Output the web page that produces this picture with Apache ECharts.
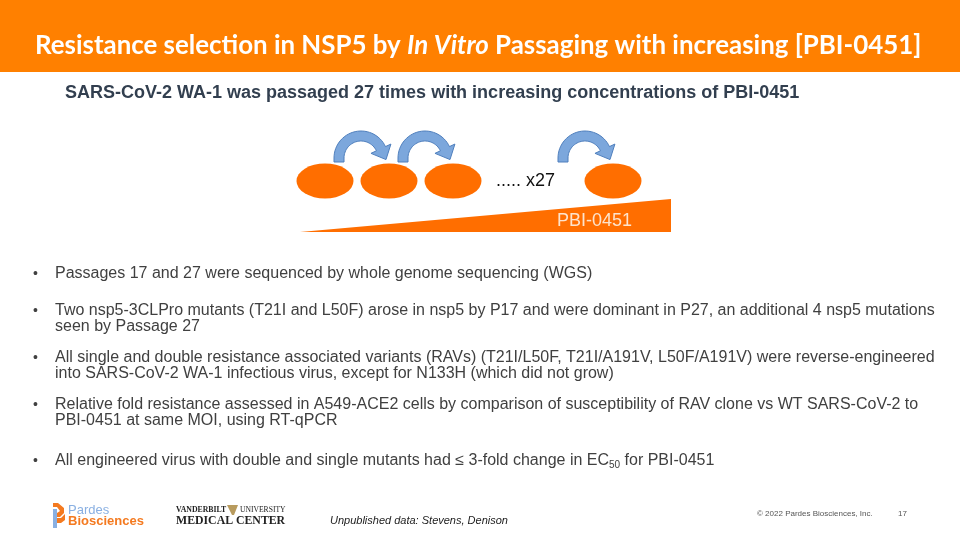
<!DOCTYPE html>
<html><head><meta charset="utf-8">
<script src="https://cdn.jsdelivr.net/npm/echarts@6/dist/echarts.min.js"></script>
<style>html,body{margin:0;padding:0;background:#fff}#c{width:960px;height:540px}</style>
</head><body><div id="c"></div>
<script>
// ---- content ----
const titleParts = ['Resistance selection in NSP5 by ', 'In Vitro', ' Passaging with increasing [PBI-0451]'];
const subtitle = 'SARS-CoV-2 WA-1 was passaged 27 times with increasing concentrations of PBI-0451';
const passageLabels = ['Passage 1', 'Passage 2', 'Passage 3', 'Passage 27'];
const passageSlot = [0, 1, 2, 4.5];           // schematic order of the culture flasks
const repeatLabel = '..... x27';
const rampPosition = [0, 1];                  // passage progress (relative)
const rampConcentration = [0, 1];             // relative [PBI-0451]
const drugLabel = 'PBI-0451';
const bullets = [
  ['Passages 17 and 27 were sequenced by whole genome sequencing (WGS)'],
  ['Two nsp5-3CLPro mutants (T21I and L50F) arose in nsp5 by P17 and were dominant in P27, an additional 4 nsp5 mutations',
   'seen by Passage 27'],
  ['All single and double resistance associated variants (RAVs) (T21I/L50F, T21I/A191V, L50F/A191V) were reverse-engineered',
   'into SARS-CoV-2 WA-1 infectious virus, except for N133H (which did not grow)'],
  ['Relative fold resistance assessed in A549-ACE2 cells by comparison of susceptibility of RAV clone vs WT SARS-CoV-2 to',
   'PBI-0451 at same MOI, using RT-qPCR']
];
const lastBullet = ['All engineered virus with double and single mutants had ', '≤', ' 3-fold change in EC', '50', ' for PBI-0451'];
const footnote = 'Unpublished data: Stevens, Denison';
const copyright = '© 2022 Pardes Biosciences, Inc.';
const pageNumber = '17';

// ---- styling ----
const ORANGE = '#FF8000', SHAPE = '#FF6E00', TXT = '#404040';
const bulletTop = [274, 311, 358, 405];
const lastBulletY = 461;
const lineGap = 16;
const BF = 16;

// fit title width
function measure(font, s) { const c = document.createElement('canvas').getContext('2d'); c.font = font; return c.measureText(s).width; }
const TF = 'Lato';
const tw = measure('bold 100px ' + TF, titleParts[0]) + measure('italic bold 100px ' + TF, titleParts[1]) + measure('bold 100px ' + TF, titleParts[2]);
const titleSize = Math.min(30, 887 / tw * 100);

const graphic = [
  { type: 'rect', shape: { x: 0, y: 0, width: 960, height: 72 }, style: { fill: ORANGE }, z: 1 },
  { type: 'text', x: 35, y: 46, z: 2, style: {
      text: '{a|' + titleParts[0] + '}{b|' + titleParts[1] + '}{a|' + titleParts[2] + '}',
      verticalAlign: 'middle', fill: '#fff',
      rich: { a: { fontFamily: TF, fontWeight: 'bold', fontSize: titleSize, fill: '#fff' },
              b: { fontFamily: TF, fontWeight: 'bold', fontStyle: 'italic', fontSize: titleSize, fill: '#fff' } } } },
  { type: 'text', x: 65, y: 93, style: { text: subtitle, fontFamily: 'Liberation Sans', fontWeight: 'bold', fontSize: 18, fill: '#323F4F', verticalAlign: 'middle' } },
  { type: 'text', x: 496, y: 181, style: { text: repeatLabel, fontFamily: 'Liberation Sans', fontSize: 18, fill: '#111', verticalAlign: 'middle' } },
  { type: 'text', x: 557, y: 221, z: 5, style: { text: drugLabel, fontFamily: 'Liberation Sans', fontSize: 18, fill: '#FDE3CC', verticalAlign: 'middle' } },
  { type: 'text', x: 330, y: 521, style: { text: footnote, fontFamily: 'Liberation Sans', fontStyle: 'italic', fontSize: 11, fill: '#222', verticalAlign: 'middle' } },
  { type: 'text', x: 757, y: 514, style: { text: copyright, fontFamily: 'Liberation Sans', fontSize: 8, fill: '#555', verticalAlign: 'middle' } },
  { type: 'text', x: 898, y: 514, style: { text: pageNumber, fontFamily: 'Liberation Sans', fontSize: 8, fill: '#555', verticalAlign: 'middle' } },
  // Pardes logo
  { type: 'polygon', shape: { points: [[53,503],[58,503],[64,508],[64,513],[60,517],[57,517],[57,513],[60,511],[57,507],[53,507]] }, style: { fill: '#F47A20' } },
  { type: 'polygon', shape: { points: [[53,509],[57,509],[57,528],[53,528]] }, style: { fill: '#8AB0E2' } },
  { type: 'polygon', shape: { points: [[57,518],[61,518],[65,514],[65,520],[61,523],[57,523]] }, style: { fill: '#F47A20' } },
  { type: 'text', x: 68, y: 510, style: { text: 'Pardes', fontFamily: 'Liberation Sans', fontSize: 13, fill: '#8AB0E2', verticalAlign: 'middle' } },
  { type: 'text', x: 68, y: 521, style: { text: 'Biosciences', fontFamily: 'Liberation Sans', fontWeight: 'bold', fontSize: 13, fill: '#F47A20', verticalAlign: 'middle' } },
  // Vanderbilt logo
  { type: 'text', x: 176, y: 510, style: { text: 'VANDERBILT', fontFamily: 'Liberation Serif', fontWeight: 'bold', fontSize: 7.8, fill: '#222', verticalAlign: 'middle' } },
  { type: 'polygon', shape: { points: [[227,505],[238,505],[234,515],[232,515]] }, style: { fill: '#B89B5E' } },
  { type: 'text', x: 240, y: 510, style: { text: 'UNIVERSITY', fontFamily: 'Liberation Serif', fontSize: 7.6, fill: '#222', verticalAlign: 'middle' } },
  { type: 'text', x: 176, y: 521, style: { text: 'MEDICAL CENTER', fontFamily: 'Liberation Serif', fontWeight: 'bold', fontSize: 11.8, fill: '#222', verticalAlign: 'middle' } }
];

bullets.forEach((lines, i) => {
  graphic.push({ type: 'text', x: 33, y: bulletTop[i], style: { text: '•', fontFamily: 'Liberation Sans', fontSize: 14, fill: TXT, verticalAlign: 'middle' } });
  lines.forEach((ln, j) => {
    graphic.push({ type: 'text', x: 55, y: bulletTop[i] + j * lineGap, style: { text: ln, fontFamily: 'Liberation Sans', fontSize: BF, fill: TXT, verticalAlign: 'middle' } });
  });
});
graphic.push({ type: 'text', x: 33, y: lastBulletY, style: { text: '•', fontFamily: 'Liberation Sans', fontSize: 14, fill: TXT, verticalAlign: 'middle' } });
graphic.push({ type: 'text', x: 55, y: lastBulletY, style: {
  text: '{t|' + lastBullet[0] + '}{t|' + lastBullet[1] + '}{t|' + lastBullet[2] + '}{s|' + lastBullet[3] + '}{t|' + lastBullet[4] + '}',
  verticalAlign: 'middle',
  rich: { t: { fontFamily: 'Liberation Sans', fontSize: BF, fill: TXT, lineHeight: 18, verticalAlign: 'middle' },
          s: { fontFamily: 'Liberation Sans', fontSize: 10, fill: TXT, lineHeight: 8, verticalAlign: 'bottom' } } } });

function arrowItem(params, api) {
  const p = api.coord([api.value(0), 0]);
  const tipX = p[0] - 4, tipY = p[1] - 21;
  const cx = tipX - 24, cy = tipY - 2;
  const Ro = 27, Ri = 17, a0 = Math.PI, a1 = 2 * Math.PI - 25 * Math.PI / 180, N = 30;
  const pts = [[cx - Ro, cy + 4]];
  for (let i = 0; i <= N; i++) { const a = a0 + (a1 - a0) * i / N; pts.push([cx + Ro * Math.cos(a), cy + Ro * Math.sin(a)]); }
  const rm = (Ro + Ri) / 2, dx = -Math.sin(a1), dy = Math.cos(a1);
  pts.push([cx + (Ro + 6) * Math.cos(a1), cy + (Ro + 6) * Math.sin(a1)]);
  pts.push([cx + rm * Math.cos(a1) + 12 * dx, cy + rm * Math.sin(a1) + 12 * dy]);
  pts.push([cx + (Ri - 6) * Math.cos(a1), cy + (Ri - 6) * Math.sin(a1)]);
  for (let i = N; i >= 0; i--) { const a = a0 + (a1 - a0) * i / N; pts.push([cx + Ri * Math.cos(a), cy + Ri * Math.sin(a)]); }
  pts.push([cx - Ri, cy + 4]);
  return { type: 'polygon', shape: { points: pts }, style: { fill: '#7CA7DC', stroke: '#4F7FBD', lineWidth: 1 } };
}

const chart = echarts.init(document.getElementById('c'), null, { renderer: 'canvas' });
chart.setOption({
  animation: false,
  backgroundColor: '#fff',
  grid: [
    { left: 293, top: 160, width: 384, height: 42 },
    { left: 300, top: 199, width: 371, height: 33 }
  ],
  xAxis: [
    { type: 'value', gridIndex: 0, min: -0.5, max: 5.5, show: false },
    { type: 'value', gridIndex: 1, min: 0, max: 1, show: false }
  ],
  yAxis: [
    { type: 'value', gridIndex: 0, min: -1, max: 1, show: false },
    { type: 'value', gridIndex: 1, min: 0, max: 1, show: false }
  ],
  series: [
    { type: 'line', xAxisIndex: 1, yAxisIndex: 1, symbol: 'none', silent: true,
      data: rampPosition.map((x, i) => [x, rampConcentration[i]]),
      lineStyle: { width: 0 }, areaStyle: { color: SHAPE, opacity: 1 } },
    { type: 'scatter', xAxisIndex: 0, yAxisIndex: 0, symbol: 'circle', symbolSize: [57, 35],
      itemStyle: { color: SHAPE, opacity: 1 },
      data: passageSlot.map((x, i) => ({ name: passageLabels[i], value: [x, 0] })) },
    { type: 'custom', xAxisIndex: 0, yAxisIndex: 0, renderItem: arrowItem,
      data: passageSlot.slice(1).map(x => [x]) }
  ],
  graphic: graphic
});
</script>
</body></html>
